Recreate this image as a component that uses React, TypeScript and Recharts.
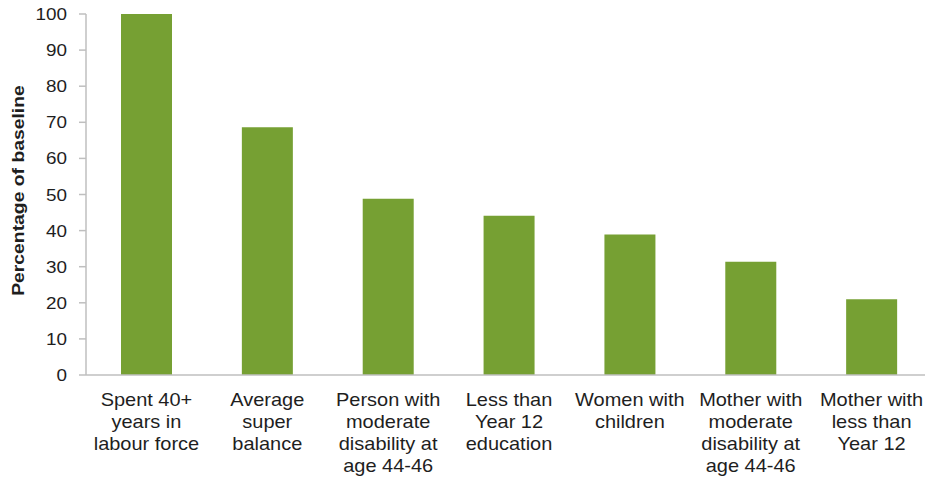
import { BarChart, Bar, XAxis, YAxis } from "recharts";

const categories = [
  "Spent 40+\nyears in\nlabour force",
  "Average\nsuper\nbalance",
  "Person with\nmoderate\ndisability at\nage 44-46",
  "Less than\nYear 12\neducation",
  "Women with\nchildren",
  "Mother with\nmoderate\ndisability at\nage 44-46",
  "Mother with\nless than\nYear 12",
];
const values = [100, 68.6, 48.8, 44.1, 38.9, 31.4, 21];
const yTicks = [0, 10, 20, 30, 40, 50, 60, 70, 80, 90, 100];

const data = categories.map((name, i) => ({ name, value: values[i] }));

const FONT = "'Liberation Sans', Arial, sans-serif";

function XTick(props: any) {
  const { x, y, payload } = props;
  const lines = String(payload.value).split("\n");
  return (
    <g transform={`translate(${x},${y}) scale(1.11,1)`}>
      <text textAnchor="middle" fontFamily={FONT} fontSize={18} fill="#1e1e1e">
        {lines.map((l, i) => (
          <tspan key={i} x={0} y={31 + i * 22}>
            {l}
          </tspan>
        ))}
      </text>
    </g>
  );
}

function YTick(props: any) {
  const { x, y, payload } = props;
  return (
    <g transform={`translate(${x},${y}) scale(1.18,1)`}>
      <text textAnchor="end" dy={6} fontFamily={FONT} fontSize={16} fill="#1e1e1e">
        {payload.value}
      </text>
    </g>
  );
}

function YLabel(props: any) {
  const { viewBox } = props;
  const cx = viewBox.x + 18;
  const cy = viewBox.y + viewBox.height / 2 - 4;
  return (
    <g transform={`translate(${cx},${cy}) rotate(-90) scale(1.29,1.1)`}>
      <text textAnchor="middle" dy={5} fontFamily={FONT} fontWeight="bold" fontSize={15} fill="#1e1e1e">
        Percentage of baseline
      </text>
    </g>
  );
}

export default function App() {
  return (
    <div style={{ position: "absolute", left: 0, top: 0, width: 925, height: 479, overflow: "hidden", background: "#fff" }}>
      <BarChart width={932} height={479} data={data} margin={{ top: 14, right: 0, left: 0, bottom: 0 }}>
        <XAxis
          dataKey="name"
          interval={0}
          height={104}
          tickLine={false}
          tickSize={0}
          tickMargin={0}
          tick={<XTick />}
          axisLine={{ stroke: "#bfbfbf", strokeWidth: 1.5 }}
        />
        <YAxis
          domain={[0, 100]}
          ticks={yTicks}
          width={86}
          tickSize={7}
          tickMargin={12}
          tick={<YTick />}
          axisLine={{ stroke: "#bfbfbf", strokeWidth: 1.5 }}
          tickLine={{ stroke: "#bfbfbf", strokeWidth: 1.5 }}
          label={{ content: <YLabel /> }}
        />
        <Bar dataKey="value" fill="#76a033" barSize={51} isAnimationActive={false} />
      </BarChart>
    </div>
  );
}
